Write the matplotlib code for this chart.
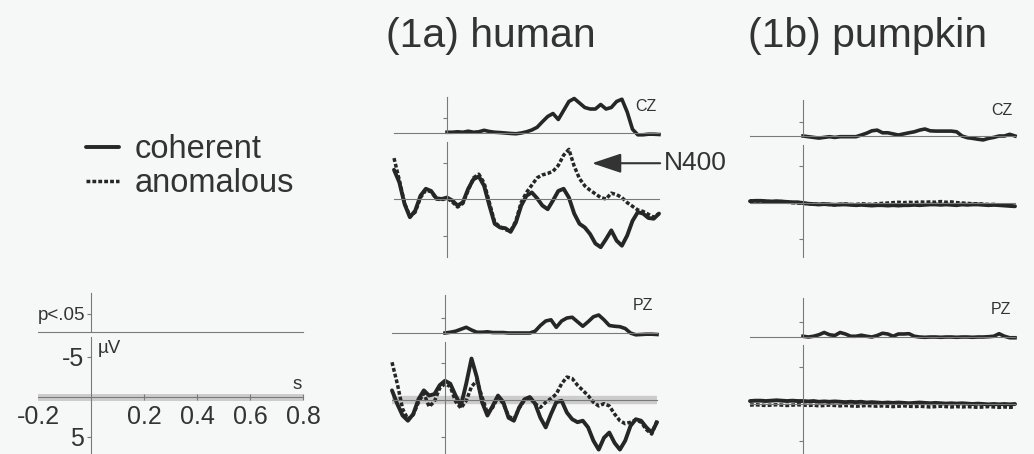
import numpy as np
import matplotlib.pyplot as plt

plt.rcParams['font.family'] = ['Liberation Sans', 'DejaVu Sans']

# time grids (s)
t_erp = np.linspace(-0.2, 0.8, 51)
t_sig = np.linspace(0.0, 0.8, 41)

# ERP amplitudes (microvolt, negative plotted up)
human_cz_coh = [-4.0, -2.3, 0.7, 2.5, 1.6, -0.45, -1.4, -1.1, -0.1, 0.0,
                -0.2, 0.2, 0.9, 0.45, -1.4, -2.7, -3.1, -1.8, 0.9, 3.4,
                3.9, 4.0, 4.5, 3.2, 0.9, -0.45, -0.9, -0.1, 0.9, 1.4,
                0.2, -1.1, -1.4, -0.2, 2.0, 3.4, 3.9, 4.8, 6.1, 6.6,
                5.5, 4.3, 5.7, 6.4, 5.0, 3.0, 1.8, 2.0, 2.6, 2.7, 2.0]
human_cz_ano = [-5.6, -2.6, 0.6, 2.4, 1.8, -0.2, -1.2, -1.0, 0.0, 0.1,
                -0.1, 0.4, 1.1, 0.6, -1.2, -2.9, -3.4, -2.2, 0.5, 3.2,
                3.8, 4.2, 4.4, 3.0, 0.45, -0.9, -1.9, -2.9, -3.3, -3.5,
                -3.8, -4.6, -6.0, -6.8, -4.5, -2.8, -1.8, -1.2, -0.7, -0.2,
                0.0, -0.8, -0.6, -0.2, 0.5, 1.0, 1.5, 1.7, 2.1, 2.5, 2.0]
human_pz_coh = [-1.3, 0.55, 2.1, 2.8, 1.9, -0.1, -1.3, -0.6, -0.8, -2.0,
                -2.6, -2.2, -0.6, 0.8, -2.2, -5.6, -3.1, 0.3, 2.1, 0.8,
                -0.6, 0.3, 2.4, 2.8, 1.0, -0.1, -0.4, 0.5, 2.4, 3.7,
                1.9, 0.3, 0.1, 1.7, 2.6, 3.0, 2.8, 3.7, 5.5, 6.7,
                5.1, 4.4, 5.8, 6.7, 5.5, 3.5, 2.6, 2.8, 3.7, 4.4, 3.0]
human_pz_ano = [-5.1, -2.2, 1.2, 2.6, 2.0, 0.3, -0.9, 0.9, 0.2, -1.6,
                -2.2, -1.8, 0.2, 1.1, 0.1, -1.8, -2.6, -0.4, 1.8, 1.0,
                -0.4, 0.5, 2.2, 2.6, 1.1, 0.0, -0.3, 0.5, 1.0, 0.3,
                -0.2, -0.8, -2.2, -3.1, -2.9, -2.0, -1.3, -0.6, 0.3, 0.8,
                0.5, 0.8, 1.9, 2.8, 3.2, 3.0, 2.7, 3.0, 4.0, 4.6, 2.8]
pumpkin_cz_coh = [-0.25, -0.3, -0.3, -0.25, -0.2, -0.25, -0.2, -0.15, -0.1, -0.1,
                  0.0, 0.1, 0.15, 0.2, 0.15, 0.2, 0.25, 0.2, 0.2, 0.25,
                  0.3, 0.25, 0.3, 0.35, 0.3, 0.3, 0.35, 0.3, 0.35, 0.3,
                  0.3, 0.25, 0.3, 0.25, 0.2, 0.2, 0.25, 0.2, 0.25, 0.3,
                  0.2, 0.25, 0.2, 0.2, 0.25, 0.3, 0.25, 0.3, 0.35, 0.4, 0.45]
pumpkin_cz_ano = [-0.3, -0.25, -0.3, -0.2, -0.2, -0.15, -0.2, -0.1, -0.05, 0.0,
                  0.05, 0.1, 0.15, 0.2, 0.15, 0.2, 0.25, 0.2, 0.15, 0.2,
                  0.2, 0.1, 0.15, 0.2, 0.1, 0.05, 0.0, -0.05, -0.1, -0.05,
                  -0.1, -0.05, -0.15, -0.1, -0.15, -0.1, -0.2, -0.1, -0.15, -0.05,
                  0.0, 0.05, 0.1, 0.1, 0.15, 0.2, 0.2, 0.25, 0.3, 0.35, 0.45]
pumpkin_pz_coh = [-0.4, -0.45, -0.45, -0.4, -0.45, -0.5, -0.45, -0.4, -0.45, -0.4,
                  -0.4, -0.35, -0.4, -0.3, -0.35, -0.3, -0.35, -0.3, -0.25, -0.3,
                  -0.25, -0.3, -0.2, -0.25, -0.2, -0.15, -0.2, -0.15, -0.2, -0.15,
                  -0.1, -0.15, -0.2, -0.15, -0.1, -0.15, -0.1, -0.05, -0.1, -0.05,
                  -0.1, -0.05, 0.0, -0.05, 0.0, 0.05, 0.0, 0.05, 0.0, 0.05, 0.0]
pumpkin_pz_ano = [0.15, 0.1, 0.15, 0.2, 0.15, 0.1, 0.15, 0.2, 0.15, 0.1,
                  0.15, 0.2, 0.15, 0.25, 0.2, 0.15, 0.2, 0.25, 0.2, 0.25,
                  0.3, 0.25, 0.2, 0.25, 0.3, 0.25, 0.3, 0.35, 0.3, 0.25,
                  0.3, 0.35, 0.3, 0.35, 0.4, 0.35, 0.3, 0.35, 0.4, 0.35,
                  0.4, 0.35, 0.4, 0.45, 0.4, 0.35, 0.4, 0.45, 0.4, 0.45, 0.4]

# significance traces (1 = p<.05 level)
human_cz_sig = [0.05, 0.05, 0.08, 0.05, 0.12, 0.05, 0.08, 0.18, 0.1, 0.05,
                0.03, 0.0, -0.03, -0.05, 0.0, 0.08, 0.2, 0.38, 0.75, 1.1,
                1.3, 0.9, 1.5, 2.1, 2.3, 2.0, 1.7, 1.6, 1.6, 1.9,
                1.6, 1.7, 2.1, 2.25, 1.4, 0.25, -0.12, -0.12, -0.08, -0.08, -0.1]
human_pz_sig = [0.0, 0.05, 0.12, 0.25, 0.38, 0.2, 0.05, 0.05, 0.08, 0.03,
                0.03, 0.03, 0.0, 0.0, 0.0, 0.0, 0.0, 0.12, 0.5, 0.8,
                0.88, 0.38, 0.8, 1.0, 1.05, 0.75, 0.45, 0.75, 1.08, 1.2,
                0.88, 0.5, 0.45, 0.42, 0.3, 0.0, -0.12, -0.1, -0.08, -0.08, -0.1]
pumpkin_cz_sig = [0.0, -0.05, -0.1, -0.15, -0.1, -0.05, -0.1, -0.05, -0.05, -0.05,
                  -0.05, 0.07, 0.2, 0.37, 0.42, 0.23, 0.23, 0.15, 0.07, 0.15,
                  0.23, 0.3, 0.42, 0.5, 0.37, 0.35, 0.35, 0.35, 0.35, 0.3,
                  0.0, -0.12, -0.17, -0.23, -0.28, -0.17, -0.1, 0.0, 0.0, 0.12, 0.0]
pumpkin_pz_sig = [0.05, 0.0, 0.05, 0.15, 0.3, 0.15, 0.1, 0.3, 0.2, 0.05,
                  0.05, 0.12, 0.05, 0.0, 0.1, 0.25, 0.2, 0.05, 0.2, 0.2,
                  0.22, 0.05, 0.0, -0.02, 0.0, 0.0, -0.02, 0.0, 0.0, -0.02,
                  0.0, 0.0, -0.02, 0.0, 0.0, 0.02, 0.05, 0.22, 0.05, -0.05, -0.05]

BG = '#f6f7f7'
INK = '#262626'
TXT = '#333333'
AXC = '#7a7a7a'
W, H = 1034, 454

fig = plt.figure(figsize=(W / 100, H / 100), dpi=100)
fig.patch.set_facecolor(BG)


def base_ax(x0, top, bottom):
    # x0 = pixel where t=-0.2, 1 s spans 265 px
    ax = fig.add_axes([x0 / W, 1 - bottom / H, 265 / W, (bottom - top) / H])
    ax.set_xlim(-0.2, 0.8)
    ax.patch.set_visible(False)
    for s in ['top', 'right']:
        ax.spines[s].set_visible(False)
    for s in ['left', 'bottom']:
        ax.spines[s].set_position(('data', 0))
        ax.spines[s].set_color(AXC)
        ax.spines[s].set_linewidth(0.8)
    ax.tick_params(colors=AXC, width=0.8, length=3, labelsize=18, labelcolor=TXT)
    ax.set_xticks([])
    return ax


def erp_ax(x0, top, bottom, zero, k):
    ax = base_ax(x0, top, bottom)
    ax.set_ylim((bottom - zero) / k, (top - zero) / k)
    ax.set_yticks([-5, 5])
    ax.set_yticklabels([])
    return ax


def sig_ax(x0, top, base, k):
    ax = base_ax(x0, top, base + 8)
    ax.set_ylim(-8 / k, (base - top) / k)
    ax.spines['left'].set_bounds(0, (base - top) / k)
    ax.set_yticks([1])
    ax.set_yticklabels([])
    return ax


def traces(ax, coh, ano):
    l1, = ax.plot(t_erp, coh, color=INK, lw=2.8, solid_capstyle='round',
                  solid_joinstyle='round', clip_on=False)
    l2, = ax.plot(t_erp, ano, color=INK, lw=2.5, linestyle=(0, (1.1, 0.6)),
                  dash_joinstyle='round', clip_on=False)
    return l1, l2


def sig_trace(ax, vals, label):
    ax.plot(t_sig, vals, color=INK, lw=2.6, solid_joinstyle='round', clip_on=False)
    ax.text(0.71, 1.8, label, fontsize=11.5, color=TXT, ha='left', va='center')


# human column
ax = sig_ax(394, 97, 133, 15)
sig_trace(ax, human_cz_sig, 'CZ')
ax = erp_ax(394, 142, 257, 199, 7.3)
coh_line, ano_line = traces(ax, human_cz_coh, human_cz_ano)
ax.annotate('N400', xy=(0.547, -4.9), xytext=(0.82, -4.9), fontsize=19,
            color=TXT, ha='left', va='center', annotation_clip=False,
            arrowprops=dict(arrowstyle='-|>,head_length=0.9,head_width=0.3',
                            mutation_scale=20, color=TXT, lw=1.5,
                            shrinkA=1, shrinkB=0))

ax = sig_ax(392, 295, 333, 15)
sig_trace(ax, human_pz_sig, 'PZ')
ax = erp_ax(392, 342, 454, 400, 7.4)
ax.axhline(0, color='#cccccc', lw=6, zorder=0)
traces(ax, human_pz_coh, human_pz_ano)

# pumpkin column
ax = sig_ax(750, 100, 136, 14)
sig_trace(ax, pumpkin_cz_sig, 'CZ')
ax = erp_ax(750, 145, 257, 203, 7.3)
traces(ax, pumpkin_cz_coh, pumpkin_cz_ano)

ax = sig_ax(750, 298, 337, 15)
sig_trace(ax, pumpkin_pz_sig, 'PZ')
ax = erp_ax(750, 345, 454, 404, 7.4)
traces(ax, pumpkin_pz_coh, pumpkin_pz_ano)

# key / scale panel
ax = sig_ax(38, 293, 332, 18)
ax.set_yticklabels(['p<.05'], fontsize=13.5)
ax.tick_params(axis='y', pad=1)
ax = erp_ax(38, 337, 454, 397, 8)
ax.axhline(0, color='#cccccc', lw=5, zorder=0)
ax.set_yticklabels(['-5', '5'])
ax.tick_params(axis='y', pad=2)
ax.set_xticks([-0.2, 0.2, 0.4, 0.6, 0.8])
ax.set_xticklabels(['-0.2', '0.2', '0.4', '0.6', '0.8'])
ax.tick_params(axis='x', direction='inout', length=5, pad=3)
ax.get_xticklines()[0].set_visible(False)
ax.get_xticklines()[1].set_visible(False)
ax.text(0.026, -6.1, 'µV', fontsize=13.5, color=TXT, ha='left', va='center')
ax.text(0.777, -1.6, 's', fontsize=13.5, color=TXT, ha='center', va='center')

fig.legend([coh_line, ano_line], ['coherent', 'anomalous'], loc='upper left',
           bbox_to_anchor=(86 / W, 1 - 134 / H), frameon=False, fontsize=23.5,
           handlelength=1.0, handletextpad=0.5, labelspacing=0.1,
           borderaxespad=0, borderpad=0, labelcolor=TXT)

fig.text(386 / W, 1 - 36 / H, '(1a) human', fontsize=29.5, color=TXT,
         ha='left', va='center')
fig.text(748 / W, 1 - 36 / H, '(1b) pumpkin', fontsize=29.5, color=TXT,
         ha='left', va='center')

fig.savefig('out.png', dpi=100, facecolor=BG)
